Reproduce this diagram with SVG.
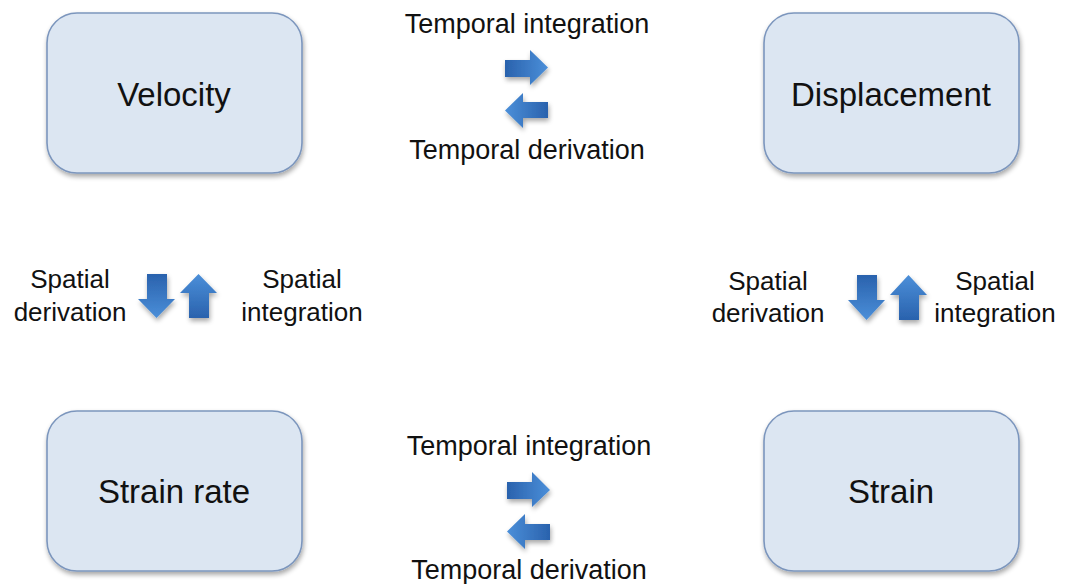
<svg xmlns="http://www.w3.org/2000/svg" width="1067" height="584" viewBox="0 0 1067 584">
<defs>
<style>
.box{fill:#dce6f2;stroke:#7c96bd;stroke-width:1.6}
.lbl{font-family:"Liberation Sans",Arial,sans-serif;fill:#111;text-anchor:middle}
.big{font-size:33px}
.sm{font-size:26px}
.tm{font-size:27px}
</style>
<filter id="sh" x="-10%" y="-10%" width="125%" height="130%">
<feGaussianBlur in="SourceAlpha" stdDeviation="2.5"/>
<feOffset dx="1" dy="3" result="b"/>
<feComponentTransfer><feFuncA type="linear" slope="0.35"/></feComponentTransfer>
<feMerge><feMergeNode/><feMergeNode in="SourceGraphic"/></feMerge>
</filter>
<linearGradient id="gr" x1="0" y1="0" x2="1" y2="0">
<stop offset="0" stop-color="#2a62ad"/>
<stop offset="1" stop-color="#4b8fd9"/>
</linearGradient>
<linearGradient id="gl" x1="1" y1="0" x2="0" y2="0">
<stop offset="0" stop-color="#2a62ad"/>
<stop offset="1" stop-color="#4b8fd9"/>
</linearGradient>
<linearGradient id="gd" x1="0" y1="0" x2="0" y2="1">
<stop offset="0" stop-color="#2a62ad"/>
<stop offset="1" stop-color="#4b8fd9"/>
</linearGradient>
<linearGradient id="gu" x1="0" y1="1" x2="0" y2="0">
<stop offset="0" stop-color="#2a62ad"/>
<stop offset="1" stop-color="#4b8fd9"/>
</linearGradient>
</defs>
<rect width="1067" height="584" fill="#fff"/>

<g id="velocity">
<rect class="box" x="47" y="13" width="255" height="160" rx="30" filter="url(#sh)"/>
<text class="lbl big" x="174" y="106">Velocity</text>
</g>
<g id="displacement">
<rect class="box" x="764" y="13" width="255" height="160" rx="30" filter="url(#sh)"/>
<text class="lbl big" x="891" y="106">Displacement</text>
</g>
<g id="strain-rate">
<rect class="box" x="47" y="411" width="255" height="160" rx="30" filter="url(#sh)"/>
<text class="lbl big" x="174" y="503">Strain rate</text>
</g>
<g id="strain">
<rect class="box" x="764" y="411" width="255" height="160" rx="30" filter="url(#sh)"/>
<text class="lbl big" x="891" y="503">Strain</text>
</g>

<g id="connectors" filter="url(#sh)">
<path d="M505,60 H530 V50 L548,67.5 L530,85 V77 H505 Z" fill="url(#gr)"/>
<path d="M548,102 H523 V93 L505,110.5 L523,128 V118 H548 Z" fill="url(#gl)"/>
<path d="M507,482 H532 V472 L550,490 L532,507 V499 H507 Z" fill="url(#gr)"/>
<path d="M550,524 H525 V514 L507,531.5 L525,549 V540 H550 Z" fill="url(#gl)"/>
<path d="M147,274 V299 H138 L156.5,318 L175,299 H167 V274 Z" fill="url(#gd)"/>
<path d="M189,318 V293 H180 L198.5,274 L217,293 H209 V318 Z" fill="url(#gu)"/>
<path d="M857,275 V300 H848 L866.5,320 L885,300 H877 V275 Z" fill="url(#gd)"/>
<path d="M899,320 V295 H890 L908.5,275 L927,295 H919 V320 Z" fill="url(#gu)"/>
</g>

<g id="labels">
<text class="lbl tm" x="527" y="33">Temporal integration</text>
<text class="lbl tm" x="527" y="159">Temporal derivation</text>
<text class="lbl tm" x="529" y="455">Temporal integration</text>
<text class="lbl tm" x="529" y="579">Temporal derivation</text>
<text class="lbl sm" x="70" y="288">Spatial</text>
<text class="lbl sm" x="70" y="321">derivation</text>
<text class="lbl sm" x="302" y="288">Spatial</text>
<text class="lbl sm" x="302" y="321">integration</text>
<text class="lbl sm" x="768" y="290">Spatial</text>
<text class="lbl sm" x="768" y="322">derivation</text>
<text class="lbl sm" x="995" y="290">Spatial</text>
<text class="lbl sm" x="995" y="322">integration</text>
</g>
</svg>
